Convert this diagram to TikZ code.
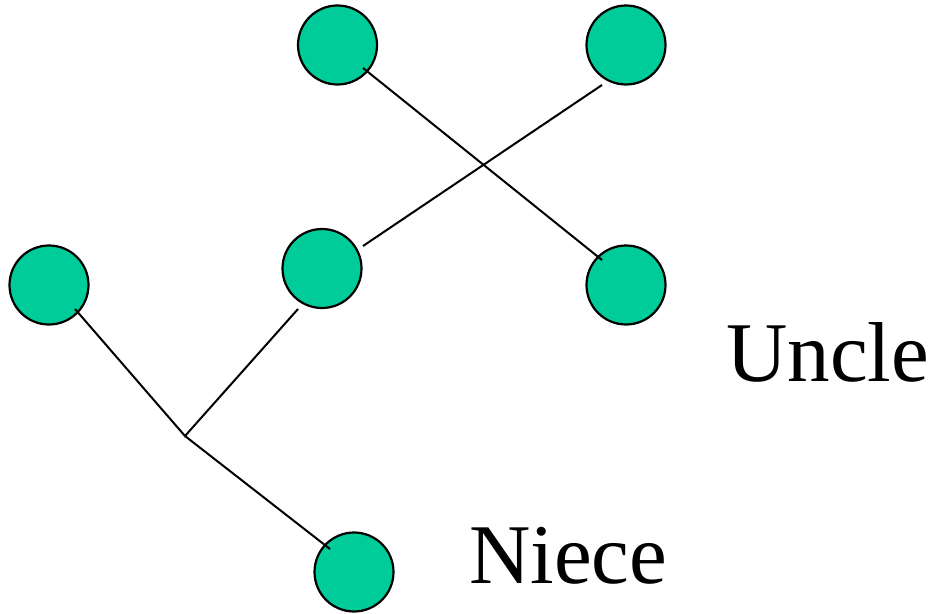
\documentclass[tikz,border=0pt]{standalone}
\usepackage{fontspec}
\setmainfont{Liberation Serif}
\definecolor{nodegreen}{RGB}{0,204,153}
\begin{document}
\begin{tikzpicture}[x=1pt,y=-1pt,
  person/.style={circle,draw=black,fill=nodegreen,line width=2.2pt,minimum size=79pt,inner sep=0pt},
  link/.style={line width=2pt,black},
  lbl/.style={anchor=base west,inner sep=0pt,font=\fontsize{85}{90}\selectfont}]
\useasboundingbox (0,0) rectangle (934,613);
\node[person] (tl) at (337.5,45) {};
\node[person] (tr) at (626,45) {};
\node[person] (mid) at (322,268.5) {};
\node[person] (lf) at (49,285) {};
\node[person] (rt) at (626,285) {};
\node[person] (bt) at (354,572) {};
\coordinate (tlA) at (363,68);
\coordinate (rtA) at (602,260);
\coordinate (trA) at (602,85);
\coordinate (midA) at (363,246);
\coordinate (midB) at (298,309);
\coordinate (lfA) at (75,309);
\coordinate (j) at (185,436);
\coordinate (btA) at (330,549);
\draw[link] (tlA) -- (rtA);
\draw[link] (trA) -- (midA);
\draw[link] (lfA) -- (j) -- (midB);
\draw[link] (j) -- (btA);
\node[lbl] (uncle) at (726,381) {Uncle};
\node[lbl] (niece) at (469,583) {Niece};
\end{tikzpicture}
\end{document}
